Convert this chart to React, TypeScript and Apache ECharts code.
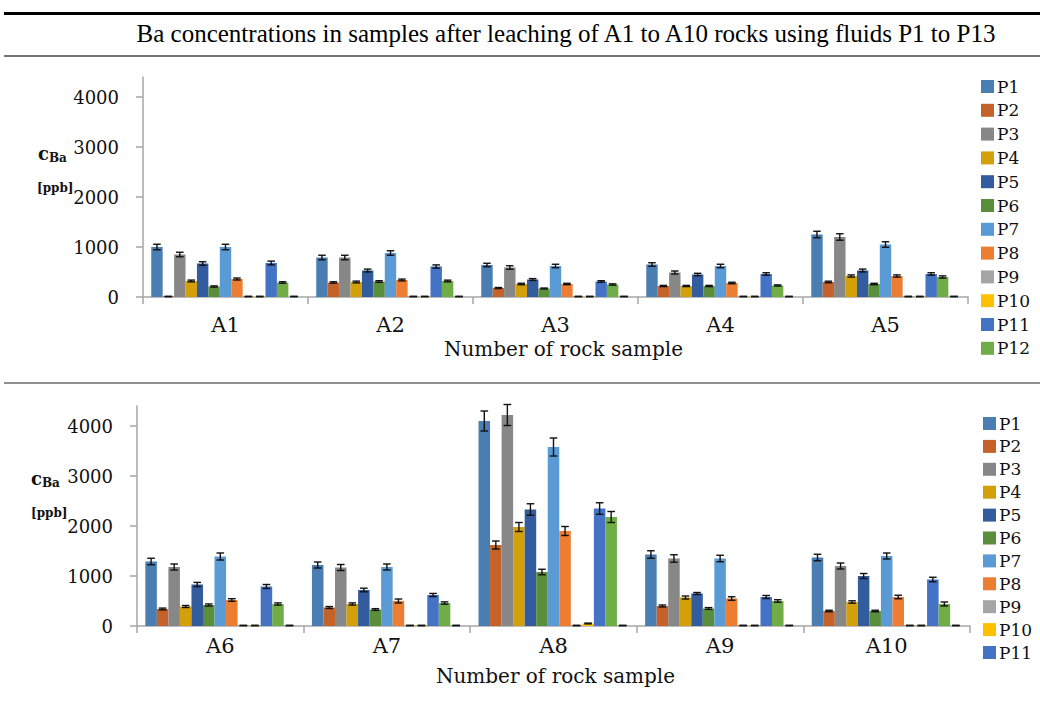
import React, { useEffect, useRef } from "react";
import * as echarts from "echarts";

const seriesNames = ["P1","P2","P3","P4","P5","P6","P7","P8","P9","P10","P11","P12","P13"];
const colors = ["#4A7EB3","#C5622A","#878787","#D4A00A","#335C9E","#5A8E3A","#5B9BD5","#ED7D31","#A5A5A5","#FFC000","#4472C4","#70AD47","#9DC3E6"];

const topRocks = ["A1","A2","A3","A4","A5"];
const bottomRocks = ["A6","A7","A8","A9","A10"];

// values per rock sample, in order P1..P13 (ppb)
const A1 = [1000, 10, 850, 320, 670, 210, 1000, 360, 10, 10, 680, 290, 10];
const A2 = [790, 290, 790, 300, 530, 310, 880, 340, 10, 10, 610, 320, 10];
const A3 = [640, 180, 590, 260, 350, 170, 620, 260, 10, 10, 310, 250, 10];
const A4 = [650, 220, 490, 220, 450, 220, 620, 280, 10, 10, 460, 230, 10];
const A5 = [1250, 300, 1200, 420, 530, 260, 1050, 420, 10, 10, 460, 400, 10];
const A6 = [1290, 340, 1180, 390, 830, 420, 1390, 520, 10, 10, 790, 440, 10];
const A7 = [1220, 370, 1170, 440, 720, 330, 1180, 500, 10, 10, 620, 460, 10];
const A8 = [4100, 1620, 4220, 1980, 2330, 1080, 3580, 1900, 10, 50, 2350, 2180, 10];
const A9 = [1430, 400, 1350, 570, 650, 350, 1350, 550, 10, 10, 580, 500, 10];
const A10 = [1370, 300, 1200, 480, 1000, 300, 1400, 580, 10, 10, 930, 440, 10];

// error bar half-lengths per rock sample, P1..P13
const eA1 = [55, 5, 45, 18, 35, 12, 55, 20, 5, 5, 38, 15, 5];
const eA2 = [45, 15, 45, 18, 28, 16, 45, 18, 5, 5, 32, 17, 5];
const eA3 = [35, 10, 35, 15, 18, 9, 35, 14, 5, 5, 16, 13, 5];
const eA4 = [35, 12, 30, 12, 24, 12, 35, 15, 5, 5, 25, 12, 5];
const eA5 = [65, 16, 65, 22, 28, 14, 55, 22, 5, 5, 25, 22, 5];
const eA6 = [65, 18, 60, 20, 42, 21, 70, 26, 5, 5, 40, 22, 5];
const eA7 = [60, 19, 60, 22, 36, 17, 60, 40, 5, 5, 31, 23, 5];
const eA8 = [200, 80, 210, 90, 115, 55, 180, 90, 5, 8, 115, 110, 5];
const eA9 = [75, 20, 75, 30, 20, 18, 65, 35, 5, 5, 30, 25, 5];
const eA10 = [65, 15, 60, 24, 50, 15, 60, 35, 5, 5, 45, 40, 5];

const yTicks = [0, 1000, 2000, 3000, 4000];
const topLegend = seriesNames.slice(0, 12);
const bottomLegend = seriesNames.slice(0, 11);

const topValues = [A1, A2, A3, A4, A5];
const topErrors = [eA1, eA2, eA3, eA4, eA5];
const bottomValues = [A6, A7, A8, A9, A10];
const bottomErrors = [eA6, eA7, eA8, eA9, eA10];

const SERIF = "'DejaVu Serif', serif";
const GAP = 0.1;

function buildPanel(gridIndex: number, values: number[][], errors: number[][]) {
  const n = seriesNames.length;
  const bars = seriesNames.map((name, s) => ({
    type: "bar",
    name,
    xAxisIndex: gridIndex,
    yAxisIndex: gridIndex,
    barGap: "0%",
    barCategoryGap: GAP * 100 + "%",
    itemStyle: { color: colors[s] },
    data: values.map((row) => row[s]),
  }));
  const errData: number[][] = [];
  values.forEach((row, c) => {
    row.forEach((v, s) => errData.push([c, v, errors[c][s], s]));
  });
  const err = {
    type: "custom",
    xAxisIndex: gridIndex,
    yAxisIndex: gridIndex,
    z: 10,
    silent: true,
    data: errData,
    renderItem: (params: any, api: any) => {
      const c = api.value(0), v = api.value(1), e = api.value(2), s = api.value(3);
      const center = api.coord([c, 0]);
      const band = api.size([1, 0])[0];
      const bw = (band * (1 - GAP)) / n;
      const x = center[0] - (band * (1 - GAP)) / 2 + (s + 0.5) * bw;
      const yTop = api.coord([c, v + e])[1];
      const yBot = api.coord([c, Math.max(v - e, 0)])[1];
      const hw = bw * 0.33;
      const style = { stroke: "#111", lineWidth: 1.4 };
      return {
        type: "group",
        children: [
          { type: "line", shape: { x1: x, y1: yTop, x2: x, y2: yBot }, style },
          { type: "line", shape: { x1: x - hw, y1: yTop, x2: x + hw, y2: yTop }, style },
          { type: "line", shape: { x1: x - hw, y1: yBot, x2: x + hw, y2: yBot }, style },
        ],
      };
    },
  };
  return [...bars, err];
}

function xAxis(gridIndex: number, data: string[], margin: number, nameGap: number, namePad: number) {
  return {
    type: "category",
    gridIndex,
    data,
    axisLine: { show: true, lineStyle: { color: "#A6A6A6", width: 1.5 } },
    axisTick: { show: true, interval: 0, length: 7, lineStyle: { color: "#A6A6A6", width: 1.5 } },
    axisLabel: { margin, fontFamily: SERIF, fontSize: 21, color: "#111" },
    name: "Number of rock sample",
    nameLocation: "middle",
    nameGap,
    nameTextStyle: { fontFamily: SERIF, fontSize: 20, color: "#111", padding: [0, 0, 0, namePad] },
  };
}

function yAxis(gridIndex: number) {
  return {
    type: "value",
    gridIndex,
    min: 0,
    max: 4400,
    interval: 1000,
    splitLine: { show: false },
    axisLine: { show: true, lineStyle: { color: "#A6A6A6", width: 1.5 } },
    axisTick: { show: true, length: 7, customValues: yTicks, lineStyle: { color: "#A6A6A6", width: 1.5 } },
    axisLabel: {
      margin: 24,
      customValues: yTicks,
      formatter: (v: number) => String(v),
      fontFamily: SERIF,
      fontSize: 18,
      color: "#111",
    },
  };
}

function yTitle(x: number, y: number, x2: number, y2: number) {
  return [
    {
      type: "text",
      x,
      y,
      style: {
        text: "{c|c}{s|Ba}",
        rich: {
          c: { fontFamily: SERIF, fontWeight: "bold", fontSize: 18, fill: "#111" },
          s: { fontFamily: SERIF, fontWeight: "bold", fontSize: 12, fill: "#111", padding: [9, 0, 0, 0] },
        },
        verticalAlign: "middle",
      },
    },
    {
      type: "text",
      x: x2,
      y: y2,
      style: { text: "[ppb]", fontFamily: SERIF, fontWeight: "bold", fontSize: 12, fill: "#111", verticalAlign: "middle" },
    },
  ];
}

export default function App() {
  const ref = useRef<HTMLDivElement>(null);
  useEffect(() => {
    if (!ref.current) return;
    const chart = echarts.init(ref.current, null, { renderer: "svg" });
    chart.setOption({
      animation: false,
      backgroundColor: "#fff",
      grid: [
        { left: 143, top: 77, width: 825, height: 220 },
        { left: 137, top: 406, width: 833, height: 220 },
      ],
      xAxis: [xAxis(0, topRocks, 17, 42, 16), xAxis(1, bottomRocks, 9, 40, 4)],
      yAxis: [yAxis(0), yAxis(1)],
      legend: [
        {
          orient: "vertical",
          left: 976,
          top: 73,
          data: topLegend,
          icon: "rect",
          itemWidth: 13,
          itemHeight: 13,
          itemGap: 6.8,
          selectedMode: false,
          textStyle: { fontFamily: SERIF, fontSize: 17, lineHeight: 17, color: "#111", padding: [0, 0, 0, -2] },
        },
        {
          orient: "vertical",
          left: 978,
          top: 410,
          data: bottomLegend,
          icon: "rect",
          itemWidth: 13,
          itemHeight: 13,
          itemGap: 5.9,
          selectedMode: false,
          textStyle: { fontFamily: SERIF, fontSize: 17, lineHeight: 17, color: "#111", padding: [0, 0, 0, -2] },
        },
      ],
      graphic: [
        { type: "line", shape: { x1: 4, y1: 13.5, x2: 1040, y2: 13.5 }, style: { stroke: "#000", lineWidth: 3 } },
        { type: "line", shape: { x1: 4, y1: 56, x2: 1040, y2: 56 }, style: { stroke: "#444", lineWidth: 1.3 } },
        { type: "line", shape: { x1: 4, y1: 383, x2: 1040, y2: 383 }, style: { stroke: "#222", lineWidth: 1 } },
        {
          type: "text",
          x: 566,
          y: 33,
          style: {
            text: "Ba concentrations in samples after leaching of A1 to A10 rocks using fluids P1 to P13",
            fontFamily: "'Liberation Serif', serif",
            fontSize: 25,
            fill: "#000",
            align: "center",
            verticalAlign: "middle",
          },
        },
        ...yTitle(38, 153, 37, 188),
        ...yTitle(31, 478, 31, 513),
      ],
      series: [...buildPanel(0, topValues, topErrors), ...buildPanel(1, bottomValues, bottomErrors)],
    });
    return () => chart.dispose();
  }, []);
  return <div ref={ref} style={{ position: "fixed", left: 0, top: 0, width: 1040, height: 704 }} />;
}
